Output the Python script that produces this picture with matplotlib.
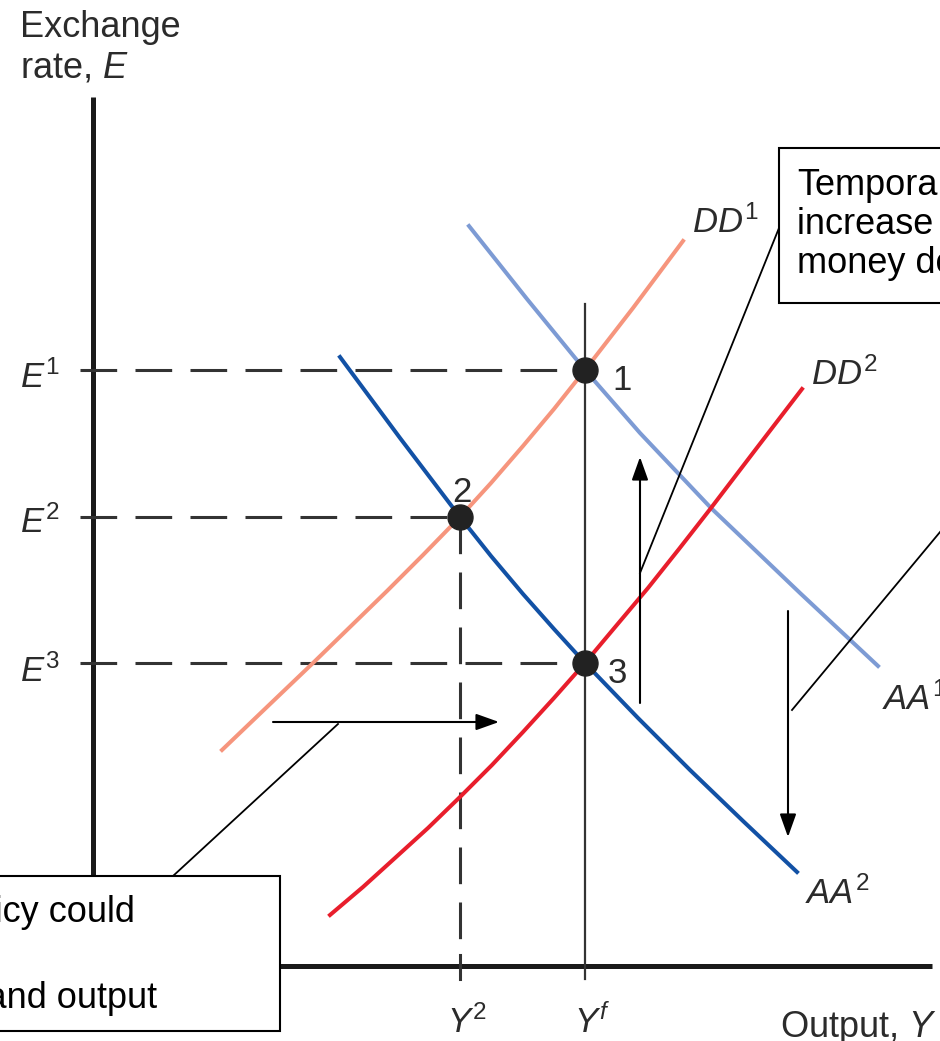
import matplotlib
matplotlib.use("Agg")
import matplotlib.pyplot as plt
from matplotlib.patches import Rectangle

plt.rcParams['font.family'] = ['Liberation Sans', 'DejaVu Sans']
plt.rcParams['mathtext.fontset'] = 'custom'
plt.rcParams['mathtext.rm'] = 'Liberation Sans'
plt.rcParams['mathtext.it'] = 'Liberation Sans:italic'
plt.rcParams['mathtext.bf'] = 'Liberation Sans:bold'

# ---------------- data (output Y, exchange rate E; origin at axes crossing) -------------
Y_F = 492          # full-employment output
Y_2 = 367          # output at point 2
E_levels = [596, 449, 303]          # E1, E2, E3
E_labels = [r"$E^1$", r"$E^2$", r"$E^3$"]

DD1_Y = [129, 175, 220, 257, 294, 330, 367, 398, 430, 461, 492, 540, 590]
DD1_E = [216, 260, 303, 339, 375, 411, 449, 483, 520, 557, 596, 658, 725]

DD2_Y = [237, 270, 302, 335, 368, 399, 430, 461, 492, 523, 555, 586, 618, 663, 709]
DD2_E = [51, 79, 108, 138, 170, 201, 234, 268, 303, 340, 378, 417, 458, 517, 577]

AA1_Y = [376, 434, 492, 547, 618, 707, 785]
AA1_E = [740, 667, 596, 533, 458, 373, 300]

AA2_Y = [247, 307, 367, 398, 430, 461, 492, 545, 597, 650, 704]
AA2_E = [609, 528, 449, 410, 372, 337, 303, 248, 196, 145, 94]

points_Y = [492, 367, 492]
points_E = [596, 449, 303]
points_lbl = ["1", "2", "3"]

curve_labels = [r"$DD^1$", r"$DD^2$", r"$AA^1$", r"$AA^2$"]

box_right_lines = ["Temporary", "increase in", "money demand"]
box_left_lines = ["Temporary fiscal policy could", "maintain full", "employment and output"]

# ---------------- figure --------------------------------------------------------------
fig = plt.figure(figsize=(9.4, 10.41), dpi=100)
ax = fig.add_axes([0, 0, 1, 1])
ax.set_xlim(-93, 847)
ax.set_ylim(-75, 966)
ax.axis('off')

C_DD1 = '#F6957D'
C_DD2 = '#E81E2C'
C_AA1 = '#7D9BD4'
C_AA2 = '#1251A5'
TXT = '#2b2b2b'
FS = 25

# axes
ax.plot([0, 0], [0, 869], color='#1a1a1a', lw=3.6, solid_capstyle='butt', zorder=2)
ax.plot([-3, 839], [0, 0], color='#1a1a1a', lw=3.6, solid_capstyle='butt', zorder=2)

# dashed guide lines
dash = (0, (12, 6))
ax.plot([-13, Y_F], [E_levels[0]] * 2, color='#333333', lw=2.2, ls=dash, zorder=3)
ax.plot([-13, Y_2], [E_levels[1]] * 2, color='#333333', lw=2.2, ls=dash, zorder=3)
ax.plot([-13, Y_F], [E_levels[2]] * 2, color='#333333', lw=2.2, ls=dash, zorder=3)
ax.plot([Y_2, Y_2], [E_levels[1], 25], color='#333333', lw=2.2, ls=(0, (12, 6)), zorder=3)
ax.plot([Y_2, Y_2], [11, -13], color='#333333', lw=2.2, zorder=3)
# full-employment line
ax.plot([Y_F, Y_F], [662, -13], color='#333333', lw=1.6, zorder=3)

# curves
ax.plot(DD1_Y, DD1_E, color=C_DD1, lw=2.9, zorder=4, solid_joinstyle='round')
ax.plot(AA1_Y, AA1_E, color=C_AA1, lw=2.9, zorder=4, solid_joinstyle='round')
ax.plot(DD2_Y, DD2_E, color=C_DD2, lw=2.9, zorder=4, solid_joinstyle='round')
ax.plot(AA2_Y, AA2_E, color=C_AA2, lw=2.9, zorder=4, solid_joinstyle='round')

# equilibrium points
ax.plot(points_Y, points_E, 'o', color='#222222', ms=18, zorder=6)
ax.text(519, 576, points_lbl[0], fontsize=FS, color=TXT, ha='left', va='baseline')
ax.text(369, 464, points_lbl[1], fontsize=FS, color=TXT, ha='center', va='baseline')
ax.text(515, 283, points_lbl[2], fontsize=FS, color=TXT, ha='left', va='baseline')

# arrows
ap = dict(arrowstyle='-|>,head_length=1.4,head_width=0.5', color='black', lw=1.5,
          shrinkA=0, shrinkB=0)
ax.annotate('', xy=(547, 509), xytext=(547, 263), arrowprops=ap, zorder=5)
ax.annotate('', xy=(695, 129), xytext=(695, 355), arrowprops=ap, zorder=5)
ax.annotate('', xy=(406, 244), xytext=(180, 244), arrowprops=ap, zorder=5)

# connector lines
ax.plot([686, 547], [738, 393], color='black', lw=1.3, zorder=5)
ax.plot([867, 699], [458, 256], color='black', lw=1.3, zorder=5)
ax.plot([245, 80], [242, 90], color='black', lw=1.3, zorder=5)

# boxes
ax.add_patch(Rectangle((686, 663), 200, 155, facecolor='white', edgecolor='black',
                       lw=1.5, zorder=7))
ax.add_patch(Rectangle((-110, -65), 297, 155, facecolor='white', edgecolor='black',
                       lw=1.5, zorder=7))
for line, e in zip(box_right_lines, [771, 732, 693]):
    ax.text(704, e, line, fontsize=26, color='black', ha='left', va='baseline', zorder=8)
for line, (y, e) in zip(box_left_lines, [(42, 44), (-100, 1), (64, -42)]):
    ax.text(y, e, line, fontsize=26, color='black', ha='right', va='baseline', zorder=8)

# axis labels
ax.text(-73, 929, "Exchange", fontsize=26, color=TXT, ha='left', va='baseline')
ax.text(-73, 888, r"rate, $E$", fontsize=26, color=TXT, ha='left', va='baseline')
ax.text(687, -71, r"Output, $Y$", fontsize=26, color=TXT, ha='left', va='baseline')

for lbl, e in zip(E_labels, [578, 433, 284]):
    ax.text(-73, e, lbl, fontsize=FS, color=TXT, ha='left', va='baseline')

ax.text(354, -67, r"$Y^2$", fontsize=FS, color=TXT, ha='left', va='baseline')
ax.text(481, -67, r"$Y^f$", fontsize=FS, color=TXT, ha='left', va='baseline')

# curve labels
ax.text(599, 733, curve_labels[0], fontsize=FS, color=TXT, ha='left', va='baseline')
ax.text(718, 581, curve_labels[1], fontsize=FS, color=TXT, ha='left', va='baseline')
ax.text(789, 256, curve_labels[2], fontsize=FS, color=TXT, ha='left', va='baseline')
ax.text(712, 62, curve_labels[3], fontsize=FS, color=TXT, ha='left', va='baseline')

fig.savefig("out.png", dpi=100)
